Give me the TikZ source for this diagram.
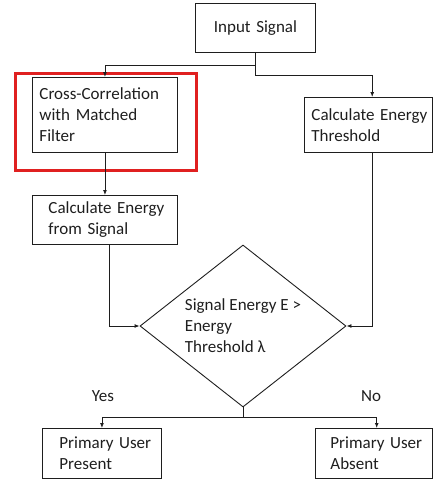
\documentclass[tikz,border=0pt]{standalone}
\usepackage{fontspec}
\setmainfont{Carlito}
\usetikzlibrary{shapes.geometric,arrows.meta}
\definecolor{hlred}{RGB}{224,32,32}
\definecolor{ink}{RGB}{30,30,30}
\begin{document}
\begin{tikzpicture}[x=1pt,y=-1pt,
  every node/.style={font=\fontsize{17}{21}\selectfont, text=ink},
  box/.style={draw=ink, line width=0.9pt, rectangle, anchor=north west, align=left, inner ysep=0pt},
  ln/.style={draw=ink, line width=0.9pt},
  arr/.style={ln, -{Latex[length=5pt,width=4pt]}}]
\useasboundingbox (0,0) rectangle (432,479);
\node[box, minimum width=120, minimum height=49, inner xsep=0pt, text width=120, align=center] (input) at (195,3) {\mbox{Input Signal}};
\node[box, minimum width=145, minimum height=75, inner xsep=7pt, text width=131] (cross) at (32,77) {\mbox{Cross-Correlation}\\\mbox{with Matched}\\\mbox{Filter}};
\node[draw=hlred, line width=3pt, rectangle, anchor=north west, minimum width=181, minimum height=97, inner sep=0pt] (hl) at (14,71.5) {};
\node[box, minimum width=127.5, minimum height=55, inner xsep=7pt, text width=113.5] (thr) at (304,97) {\mbox{Calculate Energy}\\\mbox{Threshold}};
\node[box, minimum width=145, minimum height=49, inner xsep=16pt, text width=113] (energy) at (32,195) {\mbox{Calculate Energy}\\\mbox{from Signal}};
\node[ln, diamond, aspect=1.27, minimum width=206, minimum height=162, inner sep=0pt, align=left] (dia) at (243,326) {\mbox{Signal Energy E >}\\\mbox{Energy}\\\mbox{Threshold λ}};
\node[box, minimum width=119, minimum height=50, inner xsep=17pt, text width=85] (present) at (42,428) {\mbox{Primary User}\\\mbox{Present}};
\node[box, minimum width=116.5, minimum height=50, inner xsep=15pt, text width=86.5] (absent) at (315,428) {\mbox{Primary User}\\\mbox{Absent}};
\node (yes) at (103,396) {Yes};
\node (no) at (371,396) {No};
\draw[arr] (input.south) -- ++(0,13) -| (cross.north);
\draw[arr] (input.south) -- ++(0,23) -| ([xshift=4pt]thr.north);
\draw[arr] (cross.south) -- (energy.north);
\draw[arr] ([xshift=4pt]energy.south) |- (dia.west);
\draw[arr] ([xshift=4pt]thr.south) |- (dia.east);
\draw[arr] (dia.south) -- ++(0,10) -| (present.north);
\draw[arr] (dia.south) -- ++(0,10) -| ([xshift=3pt]absent.north);
\end{tikzpicture}
\end{document}
